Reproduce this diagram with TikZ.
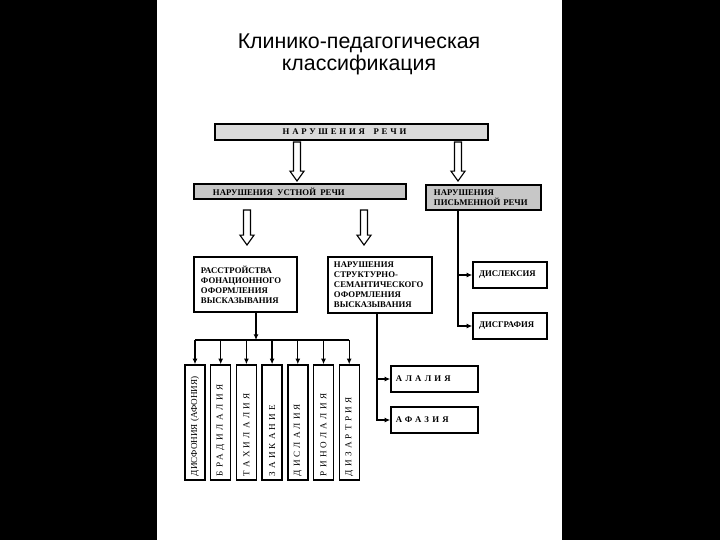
\documentclass[tikz,border=0pt]{standalone}
\usepackage{fontspec}
\setmainfont{Liberation Serif}
\newfontfamily\titlefont{Liberation Sans}
\usetikzlibrary{arrows.meta,calc}

\definecolor{lightgrey}{gray}{0.86}
\definecolor{midgrey}{gray}{0.78}

\newcommand{\spaced}[2][25]{{\addfontfeature{LetterSpace=#1}#2}}
\newcommand{\hollowarrow}[2]{%
  \draw[hollow] let \p1=(#1), \p2=(#2) in
    (\x1-2.5pt,\y1) -- (\x1-2.5pt,\y2+7pt) -- (\x1-5pt,\y2+7pt) -- (\x2,\y2)
    -- (\x1+5pt,\y2+7pt) -- (\x1+2.5pt,\y2+7pt) -- (\x1+2.5pt,\y1) -- cycle;}

\begin{document}
\begin{tikzpicture}[x=0.025cm,y=-0.025cm,
  box/.style={draw,line width=1pt,inner ysep=0pt,align=left,font=\bfseries\fontsize{6.2}{7.1}\selectfont},
  vbox/.style={draw,line width=1pt,minimum width=0.5cm,minimum height=2.875cm,inner sep=0pt},
  vlbl/.style={rotate=90,anchor=west,inner sep=0pt,font=\fontsize{6.5}{7}\selectfont},
  hollow/.style={draw,line width=0.8pt,fill=white},
  conn/.style={line width=0.9pt,-{Latex[length=4pt,width=3.5pt]}},
  line/.style={line width=0.9pt}]
  \useasboundingbox (0,0) rectangle (720,540);
  \fill[black] (0,0) rectangle (157,540);
  \fill[black] (562,0) rectangle (720,540);

  \node[font=\titlefont\fontsize{15.2}{15.8}\selectfont,align=center] (title) at (359,54.5) {Клинико-педагогическая\\классификация};

  % upper levels
  \node[box,fill=lightgrey,align=center,minimum width=6.825cm,minimum height=0.4cm] (rech) at (351.5,132) {\spaced[32]{НАРУШЕНИЯ\quad РЕЧИ}\hspace{0.35cm}};
  \node[box,fill=midgrey,text width=4.35cm,inner xsep=0.475cm,minimum height=0.375cm] (ustn) at (300,191.5) {НАРУШЕНИЯ\enspace УСТНОЙ\enspace РЕЧИ};
  \node[box,fill=midgrey,text width=2.475cm,inner xsep=0.2cm,minimum height=0.625cm] (pism) at (483.5,197.5) {НАРУШЕНИЯ\\ПИСЬМЕННОЙ РЕЧИ};
  \node[box,text width=2.225cm,inner xsep=0.175cm,minimum height=1.375cm] (rass) at (245.5,284.5) {РАССТРОЙСТВА\\ФОНАЦИОННОГО\\ОФОРМЛЕНИЯ\\ВЫСКАЗЫВАНИЯ};
  \node[box,text width=2.3cm,inner xsep=0.15cm,minimum height=1.4cm] (strukt) at (380,285) {НАРУШЕНИЯ\\СТРУКТУРНО-\\СЕМАНТИЧЕСКОГО\\ОФОРМЛЕНИЯ\\ВЫСКАЗЫВАНИЯ};

  % written speech
  \node[box,text width=1.55cm,inner xsep=0.15cm,minimum height=0.65cm] (disl) at (510,275) {ДИСЛЕКСИЯ};
  \node[box,text width=1.55cm,inner xsep=0.15cm,minimum height=0.65cm] (disgr) at (510,326) {ДИСГРАФИЯ};

  % structural-semantic
  \node[box,text width=1.925cm,inner xsep=0.125cm,minimum height=0.65cm] (alal) at (434.5,379) {\spaced[37]{АЛАЛИЯ}};
  \node[box,text width=1.925cm,inner xsep=0.125cm,minimum height=0.65cm] (afaz) at (434.5,420) {\spaced[37]{АФАЗИЯ}};

  % phonation boxes
  \foreach \ls/\txt [count=\i from 0] in {0/ДИСФОНИЯ (АФОНИЯ),38/БРАДИЛАЛИЯ,36/ТАХИЛАЛИЯ,34/ЗАИКАНИЕ,34/ДИСЛАЛИЯ,36/РИНОЛАЛИЯ,36/ДИЗАРТРИЯ}{
    \node[vbox] (v\i) at (195+25.7*\i,422.5) {};
    \node[vlbl] (t\i) at ([yshift=3pt]v\i.south) {\spaced[\ls]{\txt}};
  }

  % hollow arrows
  \coordinate (h1a) at (297,142); \coordinate (h1b) at (297,181);
  \coordinate (h2a) at (458,142); \coordinate (h2b) at (458,181);
  \coordinate (h3a) at (247,210); \coordinate (h3b) at (247,245);
  \coordinate (h4a) at (364,210); \coordinate (h4b) at (364,245);
  \hollowarrow{h1a}{h1b}
  \hollowarrow{h2a}{h2b}
  \hollowarrow{h3a}{h3b}
  \hollowarrow{h4a}{h4b}

  % connectors
  \coordinate (pspine) at (458,0);
  \draw[conn] (pism.south -| pspine) |- (disl.west);
  \draw[conn] (pism.south -| pspine) |- (disgr.west);
  \coordinate (sspine) at (377,0);
  \draw[conn] (strukt.south -| sspine) |- (alal.west);
  \draw[conn] (strukt.south -| sspine) |- (afaz.west);
  \coordinate (bus) at (256,340);
  \draw[conn] (rass.south -| bus) -- (bus);
  \draw[line] (v0.north |- bus) -- (v6.north |- bus);
  \foreach \i in {0,...,6}
    \draw[conn] (v\i.north |- bus) -- (v\i.north);
\end{tikzpicture}
\end{document}
